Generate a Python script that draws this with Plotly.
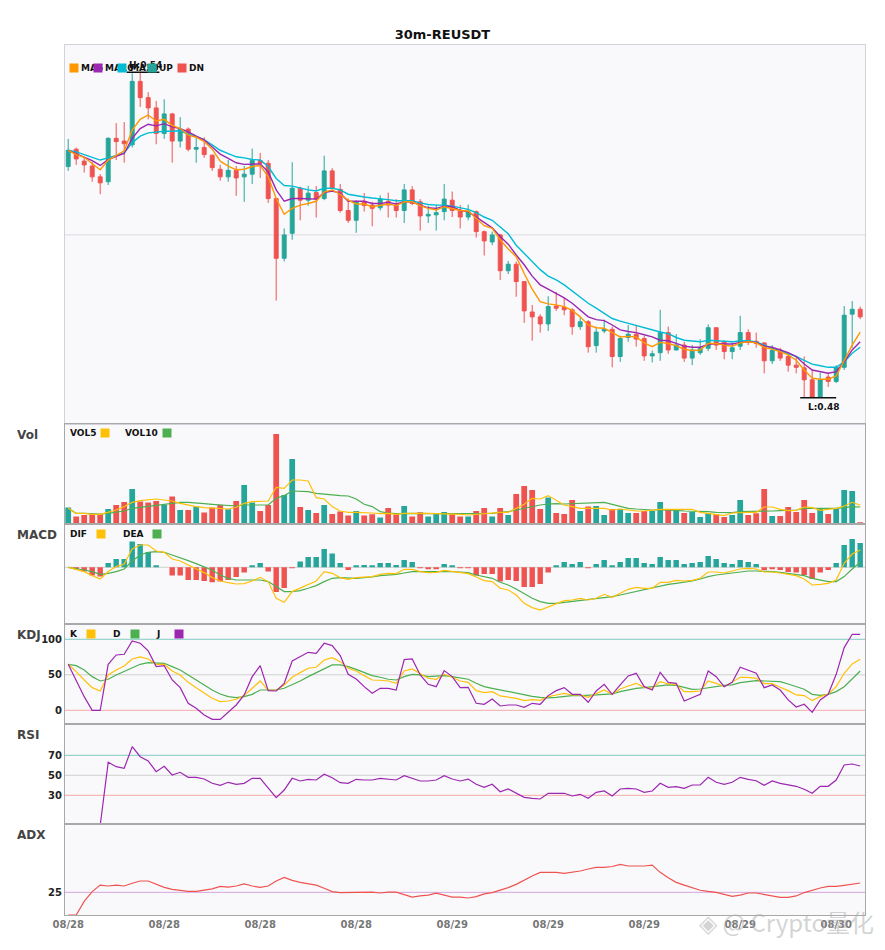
"""30m REUSDT candlestick chart with Vol, MACD, KDJ, RSI and ADX panels."""

import plotly.graph_objects as go
from plotly.subplots import make_subplots

UP = "#26a69a"
DN = "#ef5350"

tick_positions = [0, 12, 24, 36, 48, 60, 72, 84, 96]
tick_labels = ["08/28", "08/28", "08/28", "08/28", "08/29", "08/29", "08/29", "08/29", "08/30"]

opens = [
    0.5226, 0.5258, 0.5236, 0.5227, 0.5207, 0.5198, 0.5278, 0.5273, 0.5266, 0.5383,
    0.5353, 0.5334, 0.5287, 0.5323, 0.5273, 0.5295, 0.5258, 0.5261, 0.5247, 0.5221,
    0.5207, 0.5219, 0.5207, 0.5212, 0.5237, 0.5232, 0.5167, 0.5057, 0.5103, 0.5186,
    0.5164, 0.5178, 0.5167, 0.5218, 0.5184, 0.5145, 0.5127, 0.5162, 0.5155, 0.5150,
    0.5162, 0.5155, 0.5145, 0.5183, 0.5161, 0.5135, 0.5137, 0.5143, 0.5164, 0.5146,
    0.5133, 0.5143, 0.5106, 0.5087, 0.5100, 0.5034, 0.5046, 0.5014, 0.4958, 0.4949,
    0.4936, 0.4969, 0.4967, 0.4962, 0.4931, 0.4940, 0.4896, 0.4923, 0.4926, 0.4876,
    0.4911, 0.4917, 0.4909, 0.4877, 0.4883, 0.4920, 0.4888, 0.4897, 0.4873, 0.4883,
    0.4891, 0.4929, 0.4903, 0.4885, 0.4895, 0.4920, 0.4904, 0.4901, 0.4868, 0.4888,
    0.4876, 0.4860, 0.4855, 0.4833, 0.4801, 0.4838, 0.4830, 0.4856, 0.4954, 0.4963,
]
highs = [
    0.5277, 0.5261, 0.5244, 0.5235, 0.5212, 0.5280, 0.5306, 0.5308, 0.5398, 0.5400,
    0.5363, 0.5347, 0.5350, 0.5325, 0.5317, 0.5298, 0.5280, 0.5280, 0.5248, 0.5229,
    0.5238, 0.5227, 0.5227, 0.5259, 0.5251, 0.5238, 0.5168, 0.5112, 0.5234, 0.5189,
    0.5190, 0.5190, 0.5246, 0.5223, 0.5194, 0.5167, 0.5164, 0.5177, 0.5161, 0.5173,
    0.5178, 0.5166, 0.5194, 0.5190, 0.5166, 0.5154, 0.5156, 0.5194, 0.5180, 0.5155,
    0.5156, 0.5145, 0.5108, 0.5106, 0.5102, 0.5052, 0.5051, 0.5014, 0.4971, 0.4954,
    0.4987, 0.4995, 0.4983, 0.4965, 0.4948, 0.4943, 0.4931, 0.4944, 0.4931, 0.4914,
    0.4934, 0.4934, 0.4914, 0.4887, 0.4962, 0.4931, 0.4917, 0.4903, 0.4897, 0.4908,
    0.4935, 0.4929, 0.4906, 0.4904, 0.4951, 0.4926, 0.4920, 0.4902, 0.4897, 0.4892,
    0.4881, 0.4877, 0.4876, 0.4851, 0.4846, 0.4846, 0.4860, 0.4969, 0.4978, 0.4968,
]
lows = [
    0.5218, 0.5229, 0.5215, 0.5198, 0.5175, 0.5192, 0.5238, 0.5233, 0.5261, 0.5336,
    0.5313, 0.5267, 0.5277, 0.5233, 0.5261, 0.5254, 0.5233, 0.5242, 0.5218, 0.5200,
    0.5198, 0.5172, 0.5161, 0.5194, 0.5205, 0.5159, 0.4979, 0.5051, 0.5091, 0.5127,
    0.5154, 0.5132, 0.5164, 0.5183, 0.5141, 0.5122, 0.5104, 0.5143, 0.5116, 0.5145,
    0.5132, 0.5132, 0.5122, 0.5155, 0.5108, 0.5122, 0.5108, 0.5127, 0.5133, 0.5112,
    0.5127, 0.5095, 0.5062, 0.5081, 0.5017, 0.5028, 0.4986, 0.4938, 0.4905, 0.4920,
    0.4923, 0.4960, 0.4952, 0.4916, 0.4925, 0.4883, 0.4883, 0.4919, 0.4856, 0.4866,
    0.4903, 0.4894, 0.4868, 0.4865, 0.4868, 0.4881, 0.4887, 0.4866, 0.4860, 0.4879,
    0.4886, 0.4888, 0.4871, 0.4871, 0.4888, 0.4897, 0.4892, 0.4845, 0.4862, 0.4868,
    0.4848, 0.4845, 0.4800, 0.4800, 0.4801, 0.4820, 0.4827, 0.4851, 0.4892, 0.4945,
]
closes = [
    0.5256, 0.5240, 0.5229, 0.5207, 0.5196, 0.5278, 0.5272, 0.5268, 0.5383, 0.5353,
    0.5334, 0.5287, 0.5323, 0.5273, 0.5295, 0.5258, 0.5261, 0.5248, 0.5224, 0.5207,
    0.5219, 0.5205, 0.5212, 0.5237, 0.5232, 0.5167, 0.5057, 0.5100, 0.5186, 0.5164,
    0.5177, 0.5166, 0.5218, 0.5186, 0.5145, 0.5127, 0.5161, 0.5154, 0.5149, 0.5166,
    0.5155, 0.5145, 0.5183, 0.5158, 0.5135, 0.5138, 0.5141, 0.5166, 0.5145, 0.5133,
    0.5143, 0.5106, 0.5089, 0.5100, 0.5034, 0.5046, 0.5014, 0.4960, 0.4949, 0.4936,
    0.4968, 0.4965, 0.4962, 0.4931, 0.4940, 0.4894, 0.4921, 0.4926, 0.4876, 0.4909,
    0.4917, 0.4908, 0.4877, 0.4881, 0.4920, 0.4888, 0.4897, 0.4873, 0.4888, 0.4891,
    0.4929, 0.4897, 0.4885, 0.4892, 0.4920, 0.4903, 0.4900, 0.4868, 0.4887, 0.4873,
    0.4860, 0.4856, 0.4833, 0.4801, 0.4833, 0.4830, 0.4856, 0.4952, 0.4963, 0.4949,
]

ma_fast = [
    0.5256, 0.5248, 0.5243, 0.5232, 0.5220, 0.5238, 0.5247, 0.5255, 0.5293, 0.5313,
    0.5321, 0.5310, 0.5313, 0.5302, 0.5296, 0.5284, 0.5280, 0.5272, 0.5258, 0.5236,
    0.5227, 0.5220, 0.5221, 0.5226, 0.5228, 0.5207, 0.5167, 0.5138, 0.5149, 0.5155,
    0.5158, 0.5162, 0.5179, 0.5183, 0.5175, 0.5164, 0.5157, 0.5157, 0.5152, 0.5155,
    0.5157, 0.5154, 0.5161, 0.5161, 0.5154, 0.5149, 0.5146, 0.5152, 0.5149, 0.5145,
    0.5144, 0.5131, 0.5117, 0.5112, 0.5091, 0.5074, 0.5060, 0.5029, 0.5000, 0.4977,
    0.4973, 0.4971, 0.4968, 0.4961, 0.4949, 0.4934, 0.4929, 0.4928, 0.4920, 0.4912,
    0.4913, 0.4912, 0.4901, 0.4894, 0.4902, 0.4900, 0.4896, 0.4889, 0.4887, 0.4888,
    0.4900, 0.4900, 0.4897, 0.4895, 0.4901, 0.4903, 0.4901, 0.4893, 0.4889, 0.4885,
    0.4879, 0.4869, 0.4851, 0.4836, 0.4834, 0.4834, 0.4840, 0.4869, 0.4897, 0.4921,
]
ma_mid = [
    0.5256, 0.5250, 0.5244, 0.5237, 0.5228, 0.5239, 0.5245, 0.5250, 0.5278, 0.5296,
    0.5304, 0.5301, 0.5305, 0.5299, 0.5296, 0.5290, 0.5282, 0.5275, 0.5262, 0.5249,
    0.5241, 0.5233, 0.5230, 0.5230, 0.5231, 0.5216, 0.5183, 0.5162, 0.5167, 0.5167,
    0.5166, 0.5166, 0.5178, 0.5181, 0.5177, 0.5162, 0.5162, 0.5162, 0.5158, 0.5158,
    0.5160, 0.5157, 0.5161, 0.5161, 0.5155, 0.5150, 0.5149, 0.5153, 0.5152, 0.5145,
    0.5143, 0.5133, 0.5123, 0.5113, 0.5097, 0.5083, 0.5063, 0.5045, 0.5024, 0.5008,
    0.5000, 0.4992, 0.4984, 0.4974, 0.4962, 0.4949, 0.4944, 0.4942, 0.4934, 0.4925,
    0.4922, 0.4920, 0.4916, 0.4912, 0.4906, 0.4905, 0.4900, 0.4895, 0.4893, 0.4893,
    0.4898, 0.4900, 0.4899, 0.4899, 0.4902, 0.4903, 0.4902, 0.4895, 0.4893, 0.4888,
    0.4883, 0.4876, 0.4862, 0.4851, 0.4848, 0.4845, 0.4848, 0.4866, 0.4888, 0.4903,
]
ma_slow = [
    0.5256, 0.5253, 0.5248, 0.5243, 0.5238, 0.5242, 0.5247, 0.5251, 0.5270, 0.5282,
    0.5288, 0.5290, 0.5291, 0.5291, 0.5292, 0.5286, 0.5281, 0.5275, 0.5266, 0.5256,
    0.5250, 0.5244, 0.5242, 0.5239, 0.5238, 0.5226, 0.5204, 0.5191, 0.5190, 0.5186,
    0.5183, 0.5181, 0.5186, 0.5186, 0.5183, 0.5175, 0.5172, 0.5170, 0.5168, 0.5167,
    0.5165, 0.5163, 0.5163, 0.5163, 0.5159, 0.5156, 0.5155, 0.5155, 0.5153, 0.5150,
    0.5147, 0.5141, 0.5133, 0.5127, 0.5115, 0.5102, 0.5081, 0.5066, 0.5051, 0.5036,
    0.5024, 0.5017, 0.5008, 0.4997, 0.4986, 0.4974, 0.4965, 0.4956, 0.4946, 0.4941,
    0.4937, 0.4932, 0.4928, 0.4925, 0.4921, 0.4918, 0.4911, 0.4906, 0.4905, 0.4903,
    0.4906, 0.4905, 0.4903, 0.4903, 0.4905, 0.4905, 0.4903, 0.4897, 0.4891, 0.4887,
    0.4882, 0.4876, 0.4869, 0.4862, 0.4859, 0.4856, 0.4856, 0.4866, 0.4882, 0.4893,
]

# volume in thousands
volume = [
    167, 77, 93, 100, 100, 153, 193, 223, 353, 227,
    217, 233, 193, 277, 143, 143, 177, 117, 167, 193,
    150, 233, 393, 217, 133, 193, 903, 293, 653, 173,
    143, 113, 193, 103, 127, 87, 133, 87, 100, 67,
    163, 100, 183, 77, 120, 77, 107, 123, 100, 77,
    77, 133, 163, 77, 163, 93, 303, 383, 343, 153,
    267, 113, 103, 243, 133, 177, 183, 93, 153, 153,
    113, 113, 133, 133, 223, 143, 143, 113, 123, 73,
    110, 100, 73, 93, 243, 93, 110, 353, 83, 83,
    173, 123, 243, 113, 160, 103, 153, 343, 333, 13,
]
vol5 = [
    160, 110, 110, 100, 100, 120, 143, 177, 220, 237,
    247, 253, 243, 233, 210, 193, 177, 167, 160, 153,
    153, 170, 210, 227, 227, 233, 370, 360, 443, 443,
    433, 267, 253, 177, 133, 120, 120, 120, 113, 107,
    110, 100, 110, 110, 113, 110, 107, 107, 100, 100,
    93, 100, 107, 107, 120, 120, 160, 200, 260, 253,
    287, 243, 193, 177, 160, 160, 160, 160, 143, 153,
    143, 133, 133, 143, 150, 150, 150, 150, 150, 120,
    110, 100, 87, 113, 120, 120, 120, 173, 173, 150,
    137, 140, 173, 167, 140, 150, 160, 183, 220, 190,
]
vol10 = [
    160, 110, 110, 107, 103, 110, 120, 133, 160, 170,
    180, 193, 200, 213, 220, 220, 217, 207, 200, 193,
    183, 183, 193, 193, 193, 193, 260, 287, 333, 333,
    327, 310, 300, 293, 287, 283, 253, 200, 177, 127,
    113, 107, 110, 110, 110, 107, 107, 107, 107, 107,
    103, 110, 110, 110, 120, 127, 143, 160, 177, 193,
    203, 207, 203, 207, 210, 210, 213, 220, 200, 177,
    160, 153, 147, 143, 143, 143, 140, 133, 133, 127,
    127, 120, 120, 117, 127, 127, 127, 130, 133, 137,
    140, 143, 160, 160, 160, 153, 160, 167, 177, 173,
]

# MACD values in units of 1e-4
dif = [
    0, -2, -4.3, -8.3, -11.7, -4.3, 0.7, 3.3, 18.3, 22.3,
    22.3, 16.3, 15, 8.3, 6.3, 2.3, -1.7, -5.3, -10.3, -13.7,
    -15.3, -16.7, -16.3, -13.7, -10, -14.3, -31, -35, -24.3, -21,
    -17, -13.7, -4.3, -6, -10.3, -12, -10.3, -9.7, -9.3, -7,
    -6, -6.3, -2, -2, -4.3, -5.3, -5, -3, -4.3, -5.3,
    -6.3, -9.7, -13.3, -14.3, -21, -22.7, -27.7, -36, -40.3, -42.7,
    -39.3, -36.7, -33.3, -32.7, -31, -32.7, -31, -27, -30, -26,
    -22, -20, -21, -21, -15, -15, -13, -13.7, -13, -11,
    -4.7, -4.7, -5.7, -3.7, -1.7, -1, -1.7, -4.7, -4.7, -5.7,
    -6.7, -8.3, -11.7, -17.7, -17, -16, -12.7, 4, 13.3, 17.3,
]
dea = [
    0, -1, -2.7, -4.3, -7, -6, -4.3, -1.7, 6.3, 12.3,
    15, 15.7, 15, 12.3, 9.7, 6.7, 3.7, 0.3, -3, -7.7,
    -11, -12.7, -12.7, -12.7, -12.7, -14.3, -19.3, -24.3, -24.3, -23.3,
    -21, -18.3, -14.3, -11, -10.3, -11, -11, -10.3, -9.7, -8.3,
    -7.7, -7, -5.7, -4.3, -4.3, -4.3, -3.7, -3.7, -4.3, -4.7,
    -5.3, -7.7, -9.3, -11, -15, -17.7, -21.7, -26, -31, -34.3,
    -36, -36, -35, -34.3, -33.3, -32.7, -31.7, -30.3, -29.3, -27.7,
    -26, -23.7, -22.7, -21, -19.3, -17, -16, -15, -13.7, -11.7,
    -9.3, -7.7, -6.7, -6.3, -4.7, -3.7, -3.7, -3.7, -4.3, -5,
    -6, -7, -8.3, -11, -12.7, -14.3, -14.3, -9.3, -1.7, 5,
]
macd_hist = [
    0, -2, -4.3, -8.3, -9.3, 4.3, 8.3, 8.3, 25.7, 23.3,
    15.3, 1.3, 0, -8.3, -8.3, -12.7, -12.7, -13.7, -15, -14.3,
    -12.7, -9.7, -5.3, 1.3, 4.3, -4.3, -24.7, -20.7, -1, 5.7,
    10.3, 10.3, 18.3, 13.7, 4.3, -2.7, 1.3, 2.3, 1.3, 4.3,
    4.3, 2.3, 7.3, 5.3, -1, -1.7, -1.7, 3.3, 1.3, -0.7,
    -1, -8.3, -6.7, -6.7, -14.3, -12.7, -13.7, -19.7, -19.7, -16.7,
    -5.3, 1.3, 5.3, 3.3, 5.3, -0.7, 3.3, 7.3, 1.3, 5.3,
    9.3, 9.3, 4.3, 3.3, 10.3, 7.3, 7.3, 3.3, 4.3, 5.3,
    11.3, 8.3, 4.3, 3.3, 7.3, 5.3, 3.3, -2.7, -1.7, -2.7,
    -4.7, -5.3, -7.7, -11.7, -5.3, -2.7, 4.3, 22.3, 28.3, 24.3,
]

kdj_k = [
    64.8, 54.5, 42.7, 31.9, 27.2, 49.8, 56.8, 62.4, 72.3, 75.1,
    72.3, 64.8, 64.8, 55.4, 49.8, 39.4, 31.9, 24.9, 16.9, 12.2,
    13.1, 15.5, 20.7, 31, 41.3, 28.2, 28.2, 35.7, 46.5, 53.1,
    59.2, 60.6, 70.9, 74.2, 68.5, 59.2, 55.4, 48.8, 42.7, 42.3,
    41.3, 38, 55.4, 58.2, 52.1, 45.1, 43.7, 50.7, 46.5, 41.3,
    39.4, 27.7, 24.9, 26.3, 20.2, 18.3, 16.9, 13.6, 15, 14.1,
    19.2, 21.6, 23.9, 21.6, 21.6, 18.3, 23.9, 28.6, 23, 30,
    34.3, 38, 32.4, 31, 40.4, 37.1, 36.6, 26.3, 26.3, 27.2,
    41.3, 38, 33.3, 39.4, 46.5, 46.5, 45.1, 37.6, 37.6, 32.4,
    27.7, 21.6, 20.7, 13.6, 19.2, 23, 33.3, 52.1, 65.3, 71.8,
]
kdj_d = [
    64.8, 62.9, 56.8, 47.4, 41.3, 43.7, 49.8, 54.5, 60.1, 64.8,
    67.1, 66.2, 66.2, 61.5, 56.8, 49.8, 42.7, 35.7, 28.6, 23,
    19.2, 17.8, 19.2, 22.5, 28.6, 28.6, 28.6, 31, 35.7, 41.3,
    47.4, 53.1, 59.2, 63.9, 63.9, 61.5, 57.7, 53.1, 48.8, 46.5,
    43.7, 42.7, 47.4, 50.7, 49.8, 47.4, 48.4, 48.8, 47.4, 45.1,
    43.7, 38, 33.3, 31, 28.6, 26.3, 23.9, 21.6, 19.7, 18.3,
    17.4, 18.3, 19.7, 20.7, 20.7, 20.7, 21.6, 22.5, 23, 26.3,
    28.6, 31, 31.9, 33.3, 34.7, 35.7, 35.2, 32.4, 29.6, 30,
    31.9, 34.3, 35.2, 35.7, 39, 40.4, 41.8, 41.3, 40.4, 40.4,
    37.1, 33.3, 29.6, 22.5, 21.1, 22.5, 26.3, 33.3, 44.1, 55.4,
]
kdj_j = [
    64.8, 42.7, 19.2, 0, 0, 64.8, 77.9, 78.9, 97.7, 94.4,
    83.6, 61.5, 62.9, 42.7, 31.9, 9.9, 2.8, -6.6, -12.7, -12.7,
    -2.8, 7.5, 21.6, 47.4, 62.9, 27.7, 27.2, 38, 69.5, 75.6,
    81.7, 80.3, 94.4, 91.1, 77, 50.7, 44.1, 33.3, 23.9, 31,
    31, 28.6, 71.4, 72.3, 49.8, 36.6, 33.3, 55.9, 47.4, 31.9,
    32.4, 9.9, 8.5, 16, 6.1, 7.5, 7.5, 4.2, 9.9, 8.5,
    20.7, 27.7, 31.9, 22.5, 22.5, 11.3, 27.2, 36.6, 22.5, 35.7,
    48.4, 52.1, 33.3, 28.6, 53.5, 39.4, 38, 13.1, 17.8, 22.5,
    55.4, 47.4, 33.3, 39.4, 60.6, 56.8, 52.1, 31.9, 35.7, 28.6,
    14.6, 4.7, 8.5, -2.8, 14.6, 22.5, 50.7, 88.3, 107, 107,
]

rsi = [
    None, None, None, None, 0, 63, 58.6, 57, 78.6, 68.6,
    64.3, 53.6, 59, 50.3, 53, 48, 48, 46.3, 42, 40,
    43, 41, 42, 47, 47, 37, 27.6, 35.3, 47, 44.3,
    46, 45.3, 51, 47.6, 42.6, 42, 46, 45.3, 45.3, 47,
    46.3, 45.3, 49.6, 47, 44.3, 44.3, 45.3, 49.6, 46.3, 44.3,
    46.2, 41, 38, 41, 33.6, 36.3, 32, 28, 27, 26.3,
    32, 32, 32, 29.3, 31, 27, 33, 34.3, 29.3, 36.3,
    37, 36.3, 33, 34.3, 42, 38, 38.6, 37, 40.3, 40.3,
    48, 43, 41, 43, 48, 46, 44.6, 40, 44.3, 42,
    40.3, 39, 36, 32, 39, 39, 45.3, 60.3, 61.3, 59.3,
]

adx = [
    15, 15, 21, 25.3, 28.2, 27.8, 28.2, 27.8, 29, 30,
    30, 28.7, 27.2, 26.3, 25.9, 25.4, 25.4, 25.9, 26.5, 27.6,
    27.3, 27.8, 28.7, 27.8, 27.2, 27.8, 30, 31.6, 30.3, 29.4,
    28.7, 28.2, 26.8, 25.3, 24.9, 24.9, 24.9, 24.9, 25.1, 24.7,
    25.1, 25.1, 24.1, 22.9, 23.4, 23.8, 24.6, 23.8, 22.9, 22.9,
    22.5, 23.1, 24.3, 24.9, 25.9, 27.1, 28.5, 30.4, 32.2, 33.8,
    33.8, 33.8, 33.4, 33.8, 34.4, 35.3, 36, 36, 36.4, 37.3,
    36.6, 36.6, 36.6, 37, 33.8, 31.4, 29.4, 28.2, 27.1, 25.9,
    25.4, 25, 24.1, 23.2, 23.8, 24.7, 24.7, 24.1, 23.5, 22.8,
    22.8, 23.4, 24.9, 26, 26.9, 27.6, 27.6, 28.1, 28.5, 29.1,
]

bars = list(range(len(closes)))
for series in (opens, highs, lows, volume, vol5, vol10, dif, dea, macd_hist,
               ma_fast, ma_mid, ma_slow, kdj_k, kdj_d, kdj_j, rsi, adx):
    assert len(series) == len(bars), len(series)

# the page body adds an 8px margin, so the figure is drawn 8px in from the corner
PAGE_OFFSET = 8
FIG_W, FIG_H = 885 - 2 * PAGE_OFFSET, 950 - 2 * PAGE_OFFSET
# plot area in page pixels
PLOT_LEFT, PLOT_RIGHT, PLOT_TOP, PLOT_BOTTOM = 65, 865, 45, 915


def paper(x_px, y_px):
    """Convert page pixels to paper coordinates."""
    return ((x_px - PLOT_LEFT) / (PLOT_RIGHT - PLOT_LEFT),
            (PLOT_BOTTOM - y_px) / (PLOT_BOTTOM - PLOT_TOP))


def add_text(fig, x_px, y_px, text, size=9, color="#111", anchor="left"):
    x, y = paper(x_px, y_px)
    fig.add_annotation(x=x, y=y, xref="paper", yref="paper", text=f"<b>{text}</b>",
                       showarrow=False, xanchor=anchor, yanchor="middle", borderpad=0,
                       font=dict(size=size, color=color, family="DejaVu Sans"))


def add_square(fig, x_px, y_px, color, size=8):
    x, y = paper(x_px, y_px)
    fig.add_annotation(x=x, y=y, xref="paper", yref="paper", text=" ",
                       showarrow=False, xanchor="center", yanchor="middle",
                       width=size, height=size, borderpad=0, bgcolor=color,
                       font=dict(size=1))


fig = make_subplots(rows=6, cols=1, shared_xaxes=True, vertical_spacing=0,
                    row_heights=[379.3, 100, 100, 100, 100, 90.7])

fig.add_trace(go.Candlestick(
    x=bars, open=opens, high=highs, low=lows, close=closes,
    increasing=dict(line=dict(color=UP, width=1), fillcolor=UP),
    decreasing=dict(line=dict(color=DN, width=1), fillcolor=DN),
    whiskerwidth=0, name="OHLC"), row=1, col=1)
for values, color in ((ma_slow, "#00bcd4"), (ma_mid, "#9c27b0"), (ma_fast, "#ff9800")):
    fig.add_trace(go.Scatter(x=bars, y=values, mode="lines",
                             line=dict(color=color, width=1.4)), row=1, col=1)

vol_colors = [UP if c >= o else DN for o, c in zip(opens, closes)]
fig.add_trace(go.Bar(x=bars, y=volume, marker_color=vol_colors, marker_line_width=0,
                     width=0.72), row=2, col=1)
fig.add_trace(go.Scatter(x=bars, y=vol10, mode="lines", line=dict(color="#4caf50", width=1.2)),
              row=2, col=1)
fig.add_trace(go.Scatter(x=bars, y=vol5, mode="lines", line=dict(color="#ffc107", width=1.2)),
              row=2, col=1)

hist_colors = [UP if v >= 0 else DN for v in macd_hist]
fig.add_trace(go.Bar(x=bars, y=macd_hist, marker_color=hist_colors, marker_line_width=0,
                     width=0.68), row=3, col=1)
fig.add_trace(go.Scatter(x=bars, y=dea, mode="lines", line=dict(color="#4caf50", width=1.2)),
              row=3, col=1)
fig.add_trace(go.Scatter(x=bars, y=dif, mode="lines", line=dict(color="#ffc107", width=1.2)),
              row=3, col=1)

for values, color in ((kdj_d, "#4caf50"), (kdj_k, "#ffc107"), (kdj_j, "#9c27b0")):
    fig.add_trace(go.Scatter(x=bars, y=values, mode="lines",
                             line=dict(color=color, width=1.2)), row=4, col=1)

fig.add_trace(go.Scatter(x=bars, y=rsi, mode="lines", line=dict(color="#9c27b0", width=1.2)),
              row=5, col=1)
fig.add_trace(go.Scatter(x=bars, y=adx, mode="lines", line=dict(color="#ef5350", width=1.2)),
              row=6, col=1)

# reference levels
TEAL_LINE, GREY_LINE, PINK_LINE = "#80cbc4", "#d0d0d0", "#f5a9a9"
levels = [
    (1, 0.51, "#dcdce2"), (3, 0, GREY_LINE),
    (4, 100, TEAL_LINE), (4, 50, GREY_LINE), (4, 0, PINK_LINE),
    (5, 70, TEAL_LINE), (5, 50, GREY_LINE), (5, 30, PINK_LINE),
    (6, 25, "#d4a5de"),
]
for row, level, color in levels:
    fig.add_hline(y=level, row=row, col=1, line=dict(color=color, width=1), layer="below")

# high / low markers
fig.add_shape(type="line", x0=7.3, x1=11.4, y0=0.54, y1=0.54, xref="x", yref="y",
              line=dict(color="#111", width=1.5))
fig.add_annotation(x=9.6, y=0.54, xref="x", yref="y", text="<b>H:0.54</b>", showarrow=False,
                   yanchor="bottom", font=dict(size=9, color="#111", family="DejaVu Sans"))
fig.add_shape(type="line", x0=91.5, x1=96.0, y0=0.48, y1=0.48, xref="x", yref="y",
              line=dict(color="#111", width=1.5))
fig.add_annotation(x=94.5, y=0.48, xref="x", yref="y", text="<b>L:0.48</b>", showarrow=False,
                   yanchor="top", yshift=-2, font=dict(size=9, color="#111", family="DejaVu Sans"))

# panel titles
for name, y_px in (("Vol", 435), ("MACD", 535), ("KDJ", 635), ("RSI", 735), ("ADX", 835)):
    add_text(fig, 16, y_px, name, size=12, color="#444")

# inline keys: labels first, squares on top
for x_px, label in ((80, "MA5"), (104, "MA10"), (129, "MA20"), (158, "UP"), (188, "DN")):
    add_text(fig, x_px, 68.5, label)
for x_px, color in ((73.5, "#ff9800"), (98, "#9c27b0"), (122, "#00bcd4"), (152, UP), (182, DN)):
    add_square(fig, x_px, 68.5, color, size=8)

add_text(fig, 69, 433.5, "VOL5")
add_text(fig, 124, 433.5, "VOL10")
add_square(fig, 105, 433.5, "#ffc107")
add_square(fig, 167, 433.5, "#4caf50")

add_text(fig, 69, 533.5, "DIF")
add_text(fig, 122, 533.5, "DEA")
add_square(fig, 101, 533.5, "#ffc107")
add_square(fig, 157, 533.5, "#4caf50")

add_text(fig, 69, 633.5, "K")
add_text(fig, 112, 633.5, "D")
add_text(fig, 155, 633.5, "J")
add_square(fig, 91, 633.5, "#ffc107")
add_square(fig, 135, 633.5, "#4caf50")
add_square(fig, 179, 633.5, "#9c27b0")

# watermark
wx, wy = paper(876, 921)
fig.add_annotation(x=wx, y=wy, xref="paper", yref="paper", text="◈ @ Crypto量化",
                   showarrow=False, xanchor="right", yanchor="middle",
                   font=dict(size=24, color="rgba(170,170,170,0.5)",
                             family="Noto Sans CJK SC"))

y_ranges = [[0.4751, 0.5450], [0, 1000], [-57, 43], [-19.7, 121.1], [1, 101], [15, 55]]
for row, y_range in enumerate(y_ranges, start=1):
    line_color = "#d2d2da" if row == 1 else "#a8a8a8"
    fig.update_xaxes(range=[-0.4, 99.6], showgrid=False, zeroline=False, showline=True,
                     linecolor=line_color, linewidth=1, mirror=True, row=row, col=1)
    fig.update_yaxes(range=y_range, showgrid=False, zeroline=False, showline=True,
                     linecolor=line_color, linewidth=1, mirror=True, ticks="",
                     showticklabels=False, row=row, col=1)

tick_font = dict(size=10, color="#222", family="DejaVu Sans", weight="bold")
fig.update_yaxes(showticklabels=True, tickvals=[0, 50, 100], tickfont=tick_font, row=4, col=1)
fig.update_yaxes(showticklabels=True, tickvals=[30, 50, 70], tickfont=tick_font, row=5, col=1)
fig.update_yaxes(showticklabels=True, tickvals=[25], tickfont=tick_font, row=6, col=1)
fig.update_xaxes(showticklabels=True, tickvals=tick_positions, ticktext=tick_labels,
                 tickfont=dict(size=10, color="#777", family="DejaVu Sans", weight="bold"),
                 row=6, col=1)

fig.update_layout(
    width=FIG_W,
    height=FIG_H,
    margin=dict(l=PLOT_LEFT - PAGE_OFFSET, r=PAGE_OFFSET + FIG_W - PLOT_RIGHT,
                t=PLOT_TOP - PAGE_OFFSET, b=PAGE_OFFSET + FIG_H - PLOT_BOTTOM),
    paper_bgcolor="white",
    plot_bgcolor="#f9f9fb",
    showlegend=False,
    hovermode=False,
    font=dict(family="DejaVu Sans"),
    title=dict(text="<b>30m-REUSDT</b>", x=0.5, xanchor="center",
               y=1 - (34 - PAGE_OFFSET) / FIG_H,
               yanchor="middle", font=dict(size=13, color="#111", family="DejaVu Sans")),
)
fig.update_xaxes(rangeslider_visible=False)

fig.write_html("out.html")
